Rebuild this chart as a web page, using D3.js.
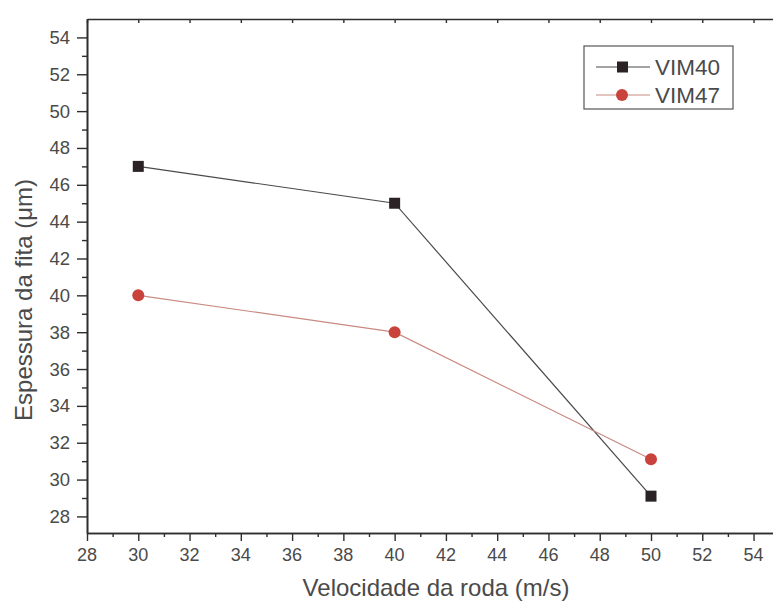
<!DOCTYPE html>
<html>
<head>
<meta charset="utf-8">
<script src="https://cdn.jsdelivr.net/npm/d3@7"></script>
<style>
  body { margin: 0; background: #fff; }
  svg { font-family: "Liberation Sans", Arial, sans-serif; }
</style>
</head>
<body>
<div id="chart"></div>
<script>
// Data
var speeds = [30, 40, 50];
var vim40 = [47, 45, 29.1];
var vim47 = [40, 38, 31.1];
var seriesNames = ["VIM40", "VIM47"];
var xTicks = [28, 30, 32, 34, 36, 38, 40, 42, 44, 46, 48, 50, 52, 54];
var yTicks = [28, 30, 32, 34, 36, 38, 40, 42, 44, 46, 48, 50, 52, 54];

var svgWidth = 773;
var svgHeight = 604;

var svg = d3.select("#chart")
  .append("svg")
  .attr("width", svgWidth)
  .attr("height", svgHeight);

// plot frame (right edge runs off the scan)
var plotLeft = 87, plotTop = 19, plotBottom = 533, plotRight = 792;

var x = d3.scaleLinear().domain([28, 55.5]).range([plotLeft, plotRight]);
var y = d3.scaleLinear().domain([27.1, 55]).range([plotBottom, plotTop]);

var axisColor = "#2e2e2e";
var textColor = "#4a4a4a";

// minor ticks at odd values
var xMinor = d3.range(29, 56, 2);
var yMinor = d3.range(29, 55, 2);

// bottom axis (tick marks only, labels drawn below)
svg.append("g")
  .attr("transform", `translate(0, ${plotBottom})`)
  .call(d3.axisBottom(x).tickValues(xTicks).tickSize(8).tickSizeOuter(0).tickFormat(""));
svg.append("g")
  .attr("transform", `translate(0, ${plotBottom})`)
  .call(d3.axisBottom(x).tickValues(xMinor).tickSize(4).tickSizeOuter(0).tickFormat(""));

// left axis
svg.append("g")
  .attr("transform", `translate(${plotLeft}, 0)`)
  .call(d3.axisLeft(y).tickValues(yTicks).tickSize(10).tickSizeOuter(0).tickFormat(""));
svg.append("g")
  .attr("transform", `translate(${plotLeft}, 0)`)
  .call(d3.axisLeft(y).tickValues(yMinor).tickSize(5).tickSizeOuter(0).tickFormat(""));

// top axis, ticks pointing inward
svg.append("g")
  .attr("transform", `translate(0, ${plotTop})`)
  .call(d3.axisBottom(x).tickValues(xTicks).tickSize(4).tickSizeOuter(0).tickFormat(""));

svg.selectAll(".domain")
  .attr("stroke", axisColor)
  .attr("stroke-width", 1.6);
svg.selectAll(".tick line")
  .attr("stroke", axisColor)
  .attr("stroke-width", 1.4);

// tick labels
svg.selectAll(".xlab")
  .data(xTicks)
  .enter()
  .append("text")
  .attr("class", "xlab")
  .attr("x", d => x(d))
  .attr("y", plotBottom + 28)
  .attr("text-anchor", "middle")
  .attr("font-size", "18px")
  .attr("fill", textColor)
  .text(d => d);

svg.selectAll(".ylab")
  .data(yTicks)
  .enter()
  .append("text")
  .attr("class", "ylab")
  .attr("x", plotLeft - 17)
  .attr("y", d => y(d) + 6.5)
  .attr("text-anchor", "end")
  .attr("font-size", "18.5px")
  .attr("fill", textColor)
  .text(d => d);

// axis titles
svg.append("text")
  .attr("x", 436)
  .attr("y", 596)
  .attr("text-anchor", "middle")
  .attr("font-size", "24px")
  .attr("fill", textColor)
  .text("Velocidade da roda (m/s)");

svg.append("text")
  .attr("transform", "rotate(-90)")
  .attr("x", -300)
  .attr("y", 32)
  .attr("text-anchor", "middle")
  .attr("font-size", "24px")
  .attr("fill", textColor)
  .text("Espessura da fita (\u03bcm)");

// lines
var line = d3.line()
  .x((d, i) => x(speeds[i]))
  .y(d => y(d));

svg.append("path")
  .datum(vim40)
  .attr("d", line)
  .attr("fill", "none")
  .attr("stroke", "#4a4a4a")
  .attr("stroke-width", 1.2);

svg.append("path")
  .datum(vim47)
  .attr("d", line)
  .attr("fill", "none")
  .attr("stroke", "#c98a80")
  .attr("stroke-width", 1.2);

// markers
svg.selectAll(".sq")
  .data(vim40)
  .enter()
  .append("rect")
  .attr("class", "sq")
  .attr("x", (d, i) => x(speeds[i]) - 5.5)
  .attr("y", d => y(d) - 5.5)
  .attr("width", 11)
  .attr("height", 11)
  .attr("fill", "#2a2224");

svg.selectAll(".dot")
  .data(vim47)
  .enter()
  .append("circle")
  .attr("class", "dot")
  .attr("cx", (d, i) => x(speeds[i]))
  .attr("cy", d => y(d))
  .attr("r", 6)
  .attr("fill", "#c9423c");

// legend
var legend = svg.append("g");
legend.append("rect")
  .attr("x", 584)
  .attr("y", 46)
  .attr("width", 149)
  .attr("height", 63)
  .attr("fill", "#fff")
  .attr("stroke", "#555")
  .attr("stroke-width", 1.2);

var legendRows = legend.selectAll(".row")
  .data(seriesNames)
  .enter()
  .append("g")
  .attr("transform", (d, i) => `translate(0, ${67 + i * 28})`);

legendRows.append("line")
  .attr("x1", 596).attr("x2", 650)
  .attr("y1", 0).attr("y2", 0)
  .attr("stroke", (d, i) => i === 0 ? "#4a4a4a" : "#c98a80")
  .attr("stroke-width", 1.2);

legendRows.filter((d, i) => i === 0)
  .append("rect")
  .attr("x", 617).attr("y", -5.5)
  .attr("width", 11).attr("height", 11)
  .attr("fill", "#2a2224");

legendRows.filter((d, i) => i === 1)
  .append("circle")
  .attr("cx", 622).attr("cy", 0)
  .attr("r", 6)
  .attr("fill", "#c9423c");

legendRows.append("text")
  .attr("x", 655)
  .attr("y", 8)
  .attr("font-size", "22.5px")
  .attr("fill", textColor)
  .text(d => d);
</script>
</body>
</html>
